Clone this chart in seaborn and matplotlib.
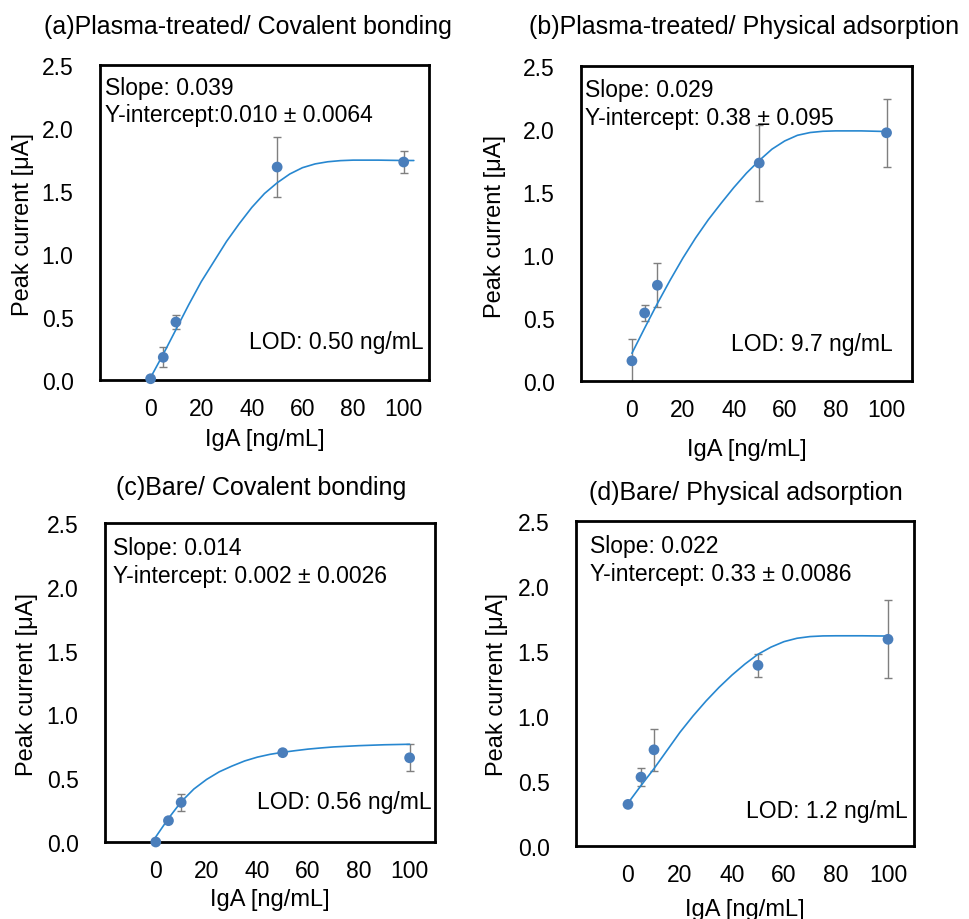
import matplotlib
matplotlib.use("Agg")
import matplotlib.pyplot as plt
import seaborn as sns
import pandas as pd

# ---------------- data ----------------
conc = [0, 5, 10, 50, 100]

a_mean = [0.01, 0.18, 0.46, 1.69, 1.73]
a_err = [0.0, 0.08, 0.055, 0.24, 0.085]
b_mean = [0.16, 0.54, 0.76, 1.73, 1.97]
b_err = [0.17, 0.064, 0.175, 0.30, 0.27]
c_mean = [0.0, 0.167, 0.31, 0.70, 0.66]
c_err = [0.0, 0.0, 0.065, 0.0, 0.105]
d_mean = [0.32, 0.53, 0.74, 1.39, 1.59]
d_err = [0.0, 0.07, 0.16, 0.09, 0.30]

fit_x_a = [0, 5, 10, 15, 20, 25, 30, 35, 40, 45, 50, 55, 60, 65, 70, 75, 80, 90, 100, 104]
fit_y_a = [0.02, 0.205, 0.40, 0.595, 0.78, 0.94, 1.10, 1.24, 1.37, 1.48, 1.565, 1.635, 1.685,
           1.715, 1.732, 1.741, 1.745, 1.745, 1.742, 1.742]
fit_x = [0, 5, 10, 15, 20, 25, 30, 35, 40, 45, 50, 55, 60, 65, 70, 75, 80, 90, 100]
fit_y_b = [0.22, 0.42, 0.615, 0.80, 0.975, 1.135, 1.28, 1.41, 1.535, 1.65, 1.75, 1.84, 1.905,
           1.95, 1.972, 1.982, 1.985, 1.985, 1.98]
fit_y_c = [0.04, 0.185, 0.315, 0.415, 0.49, 0.55, 0.595, 0.635, 0.665, 0.687, 0.703, 0.716,
           0.728, 0.737, 0.745, 0.75, 0.755, 0.762, 0.766]
fit_y_d = [0.33, 0.465, 0.595, 0.735, 0.875, 1.00, 1.115, 1.22, 1.315, 1.40, 1.475, 1.53, 1.572,
           1.598, 1.611, 1.616, 1.617, 1.617, 1.615]

titles = ["(a)Plasma-treated/ Covalent bonding", "(b)Plasma-treated/ Physical adsorption",
          "(c)Bare/ Covalent bonding", "(d)Bare/ Physical adsorption"]
slopes = ["Slope: 0.039", "Slope: 0.029", "Slope: 0.014", "Slope: 0.022"]
intercepts = ["Y-intercept:0.010 \u00b1 0.0064", "Y-intercept: 0.38 \u00b1 0.095",
              "Y-intercept: 0.002 \u00b1 0.0026", "Y-intercept: 0.33 \u00b1 0.0086"]
lods = ["LOD: 0.50 ng/mL", "LOD: 9.7 ng/mL", "LOD: 0.56 ng/mL", "LOD: 1.2 ng/mL"]
xticks = [0, 20, 40, 60, 80, 100]
yticks = [0.0, 0.5, 1.0, 1.5, 2.0, 2.5]
xlabel = "IgA [ng/mL]"
ylabel = "Peak current [\u03bcA]"

# ---------------- style ----------------
sns.set_theme(style="white")
plt.rcParams['font.family'] = ['Liberation Sans', 'DejaVu Sans']

W, H = 969, 920
fig = plt.figure(figsize=(W / 100, H / 100), dpi=100)

def fx(px):
    return px / W

def fy(py):
    return 1 - py / H

# axes boxes in pixels: left, top, right, bottom
boxes = [(100, 66, 429, 381), (581, 67, 912, 382), (105, 524, 435, 843), (576, 522, 914, 847)]
title_pos = [(248, 27), (744, 27), (261, 488), (746, 493)]
ylab_pos = [(23, 224), (495, 226), (27, 684), (497, 685)]
xlab_pos = [(265, 440), (747, 450), (270, 900), (745, 910)]
slope_pos = [(105, 88), (585, 90), (113, 548), (590, 547)]
int_pos = [(105, 116), (585, 118), (113, 576), (590, 575)]
lod_pos = [(424, 343), (893, 345), (432, 803), (908, 812)]

means = [a_mean, b_mean, c_mean, d_mean]
errs = [a_err, b_err, c_err, d_err]
fits = [(fit_x_a, fit_y_a), (fit_x, fit_y_b), (fit_x, fit_y_c), (fit_x, fit_y_d)]

point_color = "#4A7EBB"
line_color = "#2787D0"
err_color = "#7F7F7F"
fs_tick = 16.5
fs_lab = 17
fs_ann = 16.5
fs_title = 18

for i in range(4):
    l, t, r, b = boxes[i]
    ax = fig.add_axes([fx(l), fy(b), fx(r - l), (b - t) / H])
    fdf = pd.DataFrame({"x": fits[i][0], "y": fits[i][1]})
    pdf = pd.DataFrame({"x": conc, "y": means[i], "e": errs[i]})
    ax.errorbar(pdf["x"], pdf["y"], yerr=pdf["e"], fmt="none", ecolor=err_color,
                elinewidth=1.0, capsize=3, capthick=1.0, zorder=2)
    sns.lineplot(data=fdf, x="x", y="y", ax=ax, color=line_color, linewidth=1.2,
                 zorder=3, sort=False)
    sns.scatterplot(data=pdf, x="x", y="y", ax=ax, color=point_color, s=60,
                    edgecolor="none", linewidth=0, zorder=4, clip_on=False)
    ax.set_xlim(-20, 110)
    ax.set_ylim(0, 2.5)
    ax.set_xticks(xticks)
    ax.set_yticks(yticks)
    ax.set_xticklabels([str(v) for v in xticks], fontsize=fs_tick)
    ax.set_yticklabels([f"{v:.1f}" for v in yticks], fontsize=fs_tick)
    ax.tick_params(axis="both", direction="in", length=5, width=2, color="black",
                   labelcolor="black")
    ax.tick_params(axis="x", pad=12)
    ax.tick_params(axis="y", pad=19)
    ax.set_xlabel("")
    ax.set_ylabel("")
    for sp in ax.spines.values():
        sp.set_visible(True)
        sp.set_color("black")
        sp.set_linewidth(2.0)
    ax.grid(False)

    fig.text(fx(title_pos[i][0]), fy(title_pos[i][1]), titles[i], ha="center", va="center",
             fontsize=fs_title, color="black")
    fig.text(fx(ylab_pos[i][0]), fy(ylab_pos[i][1]), ylabel, ha="center", va="center",
             rotation=90, fontsize=fs_lab, color="black")
    fig.text(fx(xlab_pos[i][0]), fy(xlab_pos[i][1]), xlabel, ha="center", va="center",
             fontsize=fs_lab, color="black")
    fig.text(fx(slope_pos[i][0]), fy(slope_pos[i][1]), slopes[i], ha="left", va="center",
             fontsize=fs_ann, color="black")
    fig.text(fx(int_pos[i][0]), fy(int_pos[i][1]), intercepts[i], ha="left", va="center",
             fontsize=fs_ann, color="black")
    fig.text(fx(lod_pos[i][0]), fy(lod_pos[i][1]), lods[i], ha="right", va="center",
             fontsize=fs_ann, color="black")

fig.savefig("out.png", dpi=100, facecolor="white")
